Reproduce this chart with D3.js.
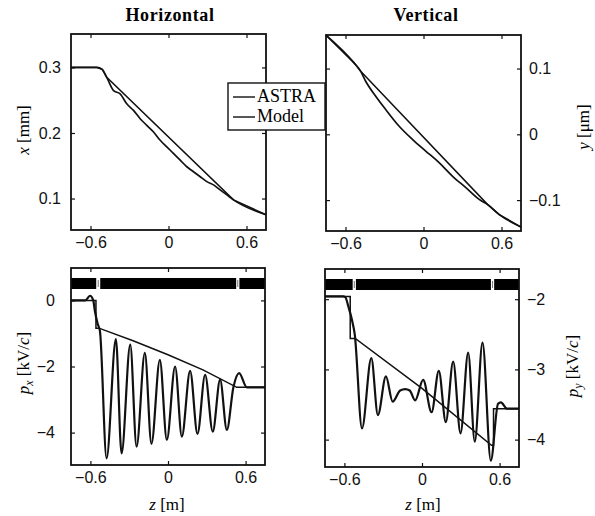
<!DOCTYPE html>
<html>
<head>
<meta charset="utf-8">
<script src="https://cdn.jsdelivr.net/npm/d3@7"></script>
<style>
  body { margin: 0; background: #fff; }
  svg { font-family: "Liberation Serif", "DejaVu Serif", serif; }
  .tick text { font-size: 16px; fill: #111; }
  .tick line { stroke: #111; stroke-width: 1.2; }
</style>
</head>
<body>
<svg id="drawing-area"></svg>
<script>
// z axis ticks shared by all panels
var zTicks = [-0.6, 0, 0.6];
var xTicks = [0.1, 0.2, 0.3];
var yTicks = [-0.1, 0, 0.1];
var pxTicks = [-4, -2, 0];
var pyTicks = [-4, -3, -2];

// horizontal position x [mm]
var xAstraZ = [-0.75, -0.55, -0.51, -0.475, -0.423, -0.372, -0.321, -0.269, -0.218, -0.167, -0.115, -0.064, -0.013, 0.038, 0.09, 0.141, 0.192, 0.244, 0.295, 0.346, 0.397, 0.449, 0.5, 0.75];
var xAstra  = [0.3, 0.3, 0.297, 0.2848, 0.2647, 0.2597, 0.2445, 0.2344, 0.2218, 0.2117, 0.2015, 0.1889, 0.1788, 0.1688, 0.1586, 0.1485, 0.1409, 0.1333, 0.1258, 0.1208, 0.1132, 0.1056, 0.098, 0.0753];
var xModelZ = [-0.75, -0.55, -0.51, -0.475, 0.5, 0.75];
var xModel  = [0.3, 0.3, 0.297, 0.2848, 0.098, 0.0753];

// vertical position y [um]
var yAstraZ = [-0.75, -0.536, -0.485, -0.446, -0.369, -0.292, -0.189, -0.086, 0.017, 0.12, 0.222, 0.326, 0.428, 0.492, 0.583, 0.75];
var yAstra  = [0.1507, 0.109, 0.0964, 0.0811, 0.0583, 0.038, 0.0126, -0.0076, -0.0254, -0.0431, -0.0634, -0.0812, -0.099, -0.1065, -0.122, -0.141];
var yModelZ = [-0.75, -0.536, -0.485, 0.492, 0.583, 0.75];
var yModel  = [0.1507, 0.109, 0.0964, -0.1065, -0.122, -0.141];

// horizontal momentum px [kV/c]
var pxAstraZ = [-0.75, -0.64, -0.603, -0.578, -0.565, -0.545, -0.526, -0.475, -0.403, -0.359, -0.292, -0.243, -0.179, -0.128, -0.063, -0.009, 0.055, 0.107, 0.171, 0.228, 0.287, 0.346, 0.403, 0.455, 0.506, 0.55, 0.609, 0.75];
var pxAstra  = [0, 0, 0.14, 0, -0.33, -0.69, -0.94, -4.78, -1.17, -4.63, -1.34, -4.42, -1.59, -4.34, -1.8, -4.22, -2.0, -4.12, -2.13, -4.04, -2.25, -3.97, -2.4, -3.92, -2.62, -2.2, -2.63, -2.63];
var pxModelZ = [-0.75, -0.557, -0.557, -0.534, -0.27, 0, 0.27, 0.532, 0.75];
var pxModel  = [0, 0, -0.84, -0.84, -1.22, -1.645, -2.1, -2.63, -2.63];
var pxGaps = [[-0.555, -0.524], [0.527, 0.552]];

// vertical momentum py [kV/c]
var pyAstraZ = [-0.75, -0.61, -0.593, -0.57, -0.541, -0.52, -0.464, -0.392, -0.341, -0.279, -0.227, -0.169, -0.13, -0.095, -0.053, 0.009, 0.074, 0.13, 0.184, 0.241, 0.298, 0.357, 0.408, 0.468, 0.532, 0.588, 0.61, 0.658, 0.75];
var pyAstra  = [-1.96, -1.96, -1.97, -2.1, -2.3, -2.5, -3.84, -2.84, -3.65, -3.1, -3.46, -3.3, -3.28, -3.3, -3.44, -3.15, -3.61, -3.02, -3.75, -2.89, -3.91, -2.76, -4.03, -2.62, -4.3, -3.49, -3.47, -3.56, -3.56];
var pyModelZ = [-0.75, -0.555, -0.555, -0.516, 0, 0.537, 0.553, 0.553, 0.75];
var pyModel  = [-1.96, -1.96, -2.56, -2.56, -3.27, -4.08, -4.08, -3.56, -3.56];
var pyGaps = [[-0.536, -0.511], [0.533, 0.558]];

var width = 595;
var height = 516;

var svg = d3.select("#drawing-area")
    .attr("width", width)
    .attr("height", height);

svg.append("rect").attr("width", width).attr("height", height).attr("fill", "#fff");

function pts(zs, vs) {
    return d3.zip(zs, vs);
}

function fmt(d) {
    return (d < 0 ? "\u2212" : "") + Math.abs(d);
}

var panels = [
    {x0: 71, x1: 266, y0: 34, y1: 230, dom: [0.052, 0.351], ticks: xTicks, side: "left", pad: 10, lw: 1.7,
     astra: pts(xAstraZ, xAstra), model: pts(xModelZ, xModel)},
    {x0: 326, x1: 521, y0: 35, y1: 231, dom: [-0.147, 0.151], ticks: yTicks, side: "right", pad: 8, lw: 1.7,
     astra: pts(yAstraZ, yAstra), model: pts(yModelZ, yModel)},
    {x0: 71, x1: 265, y0: 268, y1: 465, dom: [-4.98, 0.98], ticks: pxTicks, side: "left", pad: 16, lw: 2.2,
     astra: pts(pxAstraZ, pxAstra), model: pts(pxModelZ, pxModel), gaps: pxGaps},
    {x0: 325, x1: 519, y0: 269, y1: 467, dom: [-4.39, -1.57], ticks: pyTicks, side: "right", pad: 8, lw: 2.2,
     astra: pts(pyAstraZ, pyAstra), model: pts(pyModelZ, pyModel), gaps: pyGaps}
];

panels.forEach(function(p) {
    var xScale = d3.scaleLinear().domain([-0.75, 0.75]).range([p.x0, p.x1]);
    var yScale = d3.scaleLinear().domain(p.dom).range([p.y1, p.y0]);
    var g = svg.append("g");

    // beamline bar on momentum panels
    if (p.gaps) {
        g.append("rect")
            .attr("x", p.x0).attr("y", p.y0 + 10)
            .attr("width", p.x1 - p.x0).attr("height", 11)
            .attr("fill", "#000");
        g.selectAll(".gap")
            .data(p.gaps)
            .enter()
            .append("rect")
            .attr("x", function(d){ return xScale(d[0]); })
            .attr("y", p.y0 + 10)
            .attr("width", function(d){ return xScale(d[1]) - xScale(d[0]); })
            .attr("height", 11)
            .attr("fill", "#fff");
        g.selectAll(".gapmark")
            .data(p.gaps)
            .enter()
            .append("line")
            .attr("x1", function(d){ return xScale((d[0] + d[1]) / 2); })
            .attr("x2", function(d){ return xScale((d[0] + d[1]) / 2); })
            .attr("y1", p.y0 + 12).attr("y2", p.y0 + 19)
            .attr("stroke", "#777").attr("stroke-width", 1);
    }

    var line = d3.line()
        .x(function(d){ return xScale(d[0]); })
        .y(function(d){ return yScale(d[1]); });

    g.append("path")
        .attr("d", line.curve(d3.curveLinear)(p.model))
        .attr("fill", "none").attr("stroke", "#111").attr("stroke-width", 1.5);
    g.append("path")
        .attr("d", line.curve(d3.curveMonotoneX)(p.astra))
        .attr("fill", "none").attr("stroke", "#111").attr("stroke-width", p.lw);

    var labelled = p.side == "left" ? d3.axisLeft(yScale) : d3.axisRight(yScale);
    var mirror = p.side == "left" ? d3.axisRight(yScale) : d3.axisLeft(yScale);

    g.append("g")
        .attr("transform", "translate(" + (p.side == "left" ? p.x0 : p.x1) + ",0)")
        .call(labelled.tickValues(p.ticks).tickSize(-4).tickPadding(p.pad).tickFormat(fmt))
        .call(function(a){ a.select(".domain").remove(); a.selectAll("text").attr("font-family", null).attr("font-size", null); });
    g.append("g")
        .attr("transform", "translate(" + (p.side == "left" ? p.x1 : p.x0) + ",0)")
        .call(mirror.tickValues(p.ticks).tickSize(-4).tickFormat(""))
        .call(function(a){ a.select(".domain").remove(); });

    g.append("g")
        .attr("transform", "translate(0," + p.y1 + ")")
        .call(d3.axisBottom(xScale).tickValues(zTicks).tickSize(-4).tickPadding(7).tickFormat(fmt))
        .call(function(a){ a.select(".domain").remove(); a.selectAll("text").attr("font-family", null).attr("font-size", null); });
    g.append("g")
        .attr("transform", "translate(0," + p.y0 + ")")
        .call(d3.axisTop(xScale).tickValues(zTicks).tickSize(-4).tickFormat(""))
        .call(function(a){ a.select(".domain").remove(); });

    g.append("rect")
        .attr("x", p.x0).attr("y", p.y0)
        .attr("width", p.x1 - p.x0).attr("height", p.y1 - p.y0)
        .attr("fill", "none").attr("stroke", "#111").attr("stroke-width", 1.8);
});

// titles
svg.append("text").attr("x", 170).attr("y", 21).attr("text-anchor", "middle")
    .attr("font-size", 18).attr("font-weight", "bold").attr("letter-spacing", 0.6).text("Horizontal");
svg.append("text").attr("x", 426).attr("y", 21).attr("text-anchor", "middle")
    .attr("font-size", 18).attr("font-weight", "bold").attr("letter-spacing", 0.6).text("Vertical");

// axis labels
function label(x, y, rotate, parts) {
    var t = svg.append("text")
        .attr("transform", "translate(" + x + "," + y + ")" + (rotate ? " rotate(-90)" : ""))
        .attr("text-anchor", "middle")
        .attr("font-size", 17);
    parts.forEach(function(s) {
        var ts = t.append("tspan").text(s[0]);
        if (s[1] == "i") ts.attr("font-style", "italic");
        if (s[1] == "sub") ts.attr("font-style", "italic").attr("font-size", 12).attr("dy", 4);
        if (s[1] == "up") ts.attr("dy", -4);
    });
}
label(29, 130, true, [["x", "i"], [" [mm]"]]);
label(589, 127, true, [["y", "i"], [" [\u03bcm]"]]);
label(29, 363, true, [["p", "i"], ["x", "sub"], [" [kV/", "up"], ["c", "i"], ["]"]]);
label(578, 366, true, [["p", "i"], ["y", "sub"], [" [kV/", "up"], ["c", "i"], ["]"]]);
label(167, 510, false, [["z", "i"], [" [m]"]]);
label(423, 510, false, [["z", "i"], [" [m]"]]);

// legend
var leg = svg.append("g");
leg.append("rect").attr("x", 228).attr("y", 83).attr("width", 97).attr("height", 47)
    .attr("fill", "#fff").attr("stroke", "#111").attr("stroke-width", 1.4);
var legNames = ["ASTRA", "Model"];
leg.selectAll(".entry")
    .data(legNames)
    .enter()
    .append("line")
    .attr("x1", 233).attr("x2", 255)
    .attr("y1", function(d, i){ return 97 + i * 20; })
    .attr("y2", function(d, i){ return 97 + i * 20; })
    .attr("stroke", "#111").attr("stroke-width", 1.4);
leg.selectAll(".name")
    .data(legNames)
    .enter()
    .append("text")
    .attr("x", 257)
    .attr("y", function(d, i){ return 102 + i * 20; })
    .attr("font-size", 18)
    .text(function(d){ return d; });
</script>
</body>
</html>
